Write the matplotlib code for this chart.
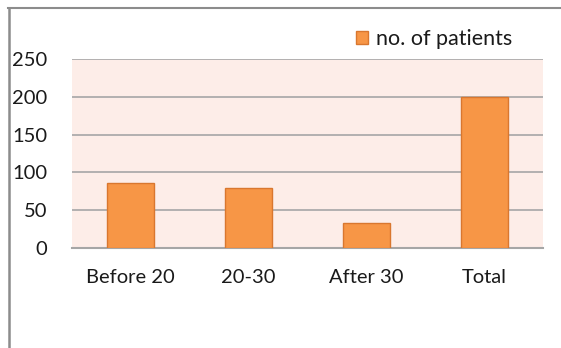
import matplotlib
matplotlib.use("Agg")
from matplotlib import pyplot as plt
from matplotlib.lines import Line2D
import numpy as np

# age groups and patient counts
groups = ["Before 20", "20-30", "After 30", "Total"]
patients = [86, 79, 33, 200]
yticks = [0, 50, 100, 150, 200, 250]

plt.rcParams['font.family'] = ['Lato', 'DejaVu Sans']

fig = plt.figure(figsize=(5.61, 3.48), dpi=100)
W, H = 561, 348
ax = fig.add_axes([72 / W, (H - 248) / H, 471 / W, 189 / H])

ax.set_facecolor("#FDEDE8")
x = np.arange(len(groups))
ax.bar(x, patients, width=0.4, color="#F79646", edgecolor="#D9772F",
       linewidth=1.0, label="no. of patients", zorder=3)

ax.set_xlim(-0.5, len(groups) - 0.5)
ax.set_ylim(0, 250)
ax.set_yticks(yticks)
ax.set_xticks(x)
ax.set_xticklabels(groups)
ax.grid(axis="y", color="#A6A6A6", linewidth=1.2, zorder=1)
for s in ["left", "right", "top"]:
    ax.spines[s].set_visible(False)
ax.spines["bottom"].set_color("#A6A6A6")
ax.spines["bottom"].set_linewidth(1.5)
ax.tick_params(axis="both", length=0, labelsize=14.5, colors="#1A1A1A")
ax.tick_params(axis="y", pad=18)
ax.tick_params(axis="x", pad=15)

ax.legend(loc="lower right", bbox_to_anchor=(523 / W, (H - 60) / H),
          bbox_transform=fig.transFigure, frameon=False, fontsize=15.5,
          handlelength=0.6, handleheight=0.6, handletextpad=0.35,
          borderpad=0, labelcolor="#1A1A1A")

# outer frame (top and left edges)
fig.add_artist(Line2D([8 / W, 1], [1 - 7.5 / H, 1 - 7.5 / H],
                      transform=fig.transFigure, color="#8C8C8C", linewidth=1.5))
fig.add_artist(Line2D([9 / W, 9 / W], [0, 1 - 7.5 / H],
                      transform=fig.transFigure, color="#8C8C8C", linewidth=1.8))

fig.savefig("out.png", dpi=100)
